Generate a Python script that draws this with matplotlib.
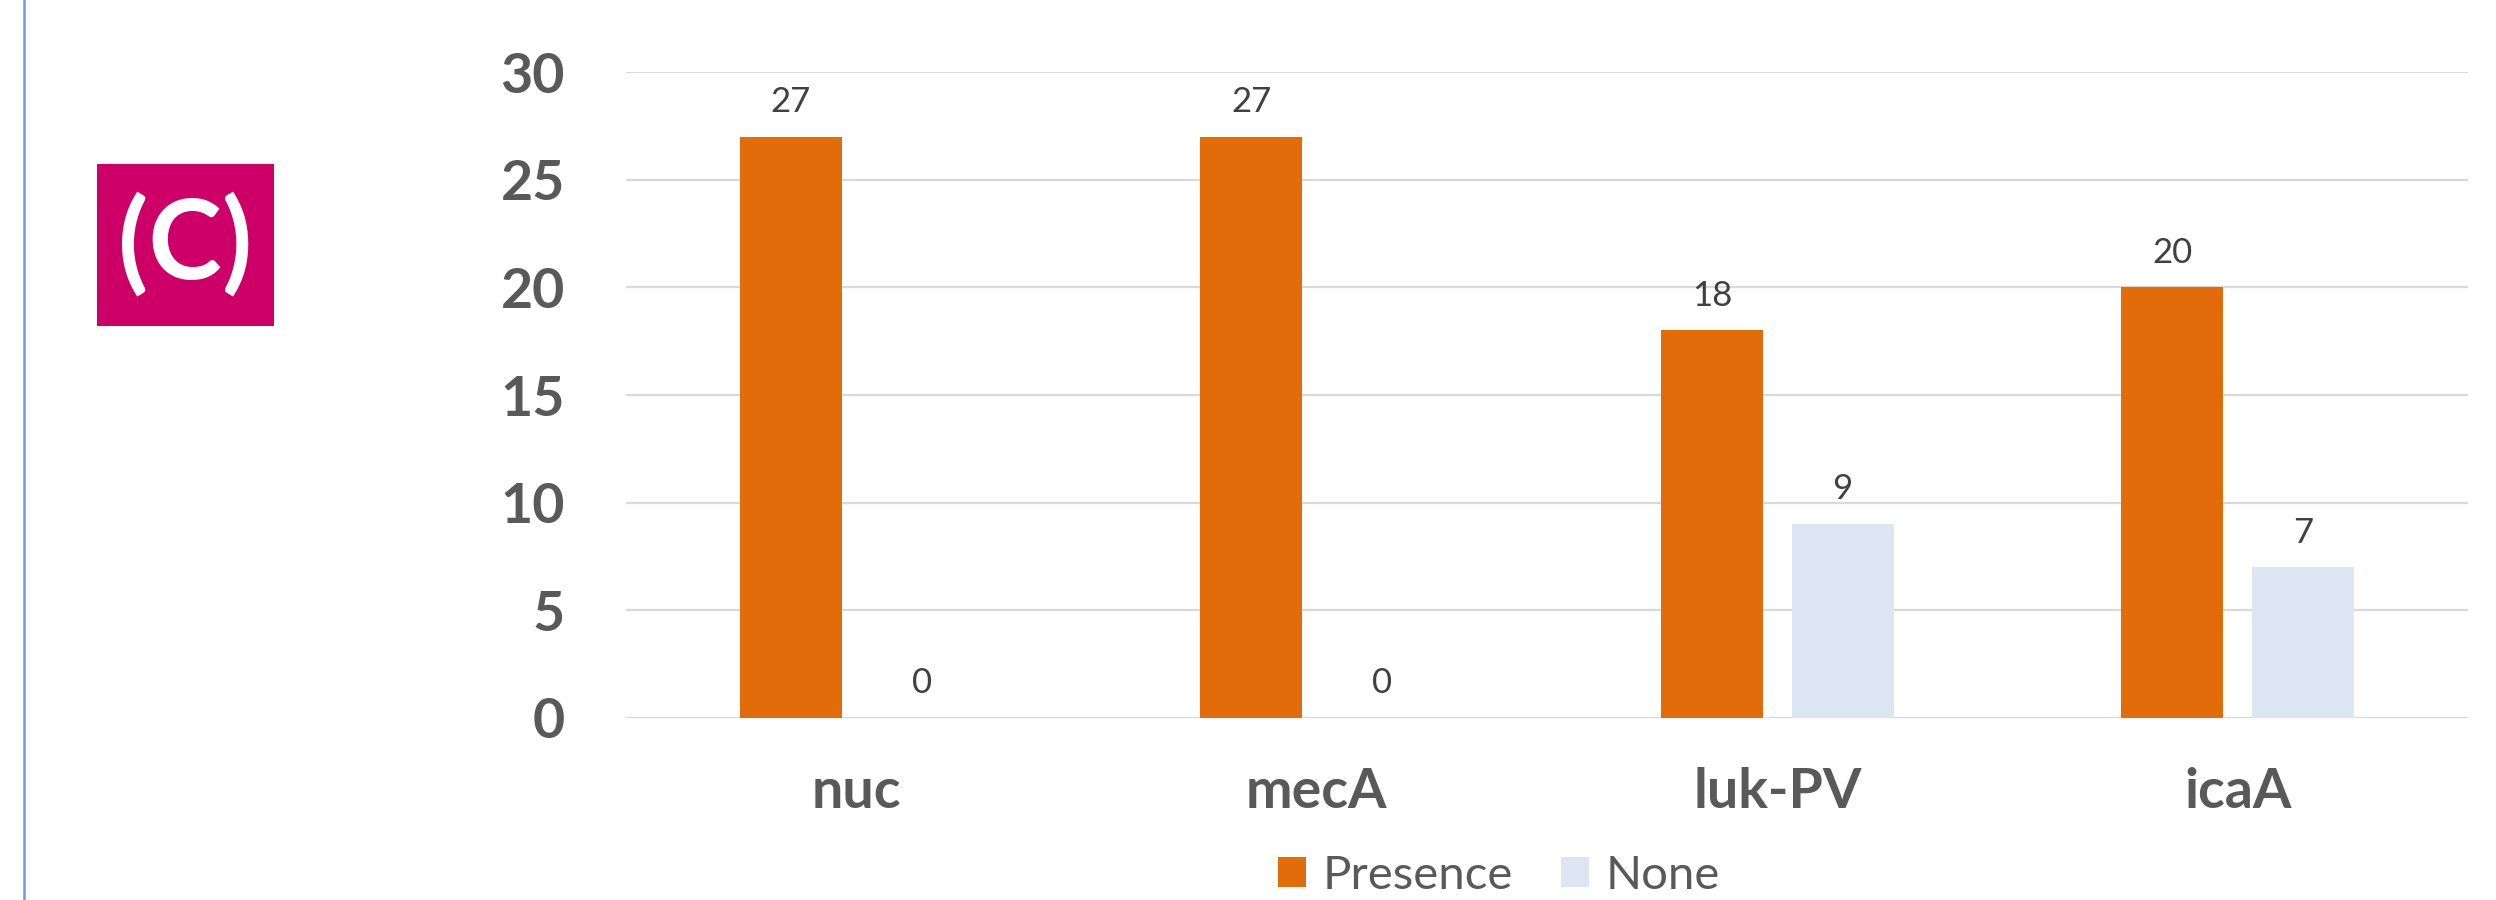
import numpy as np
import matplotlib as mpl
mpl.use('Agg')
import matplotlib.pyplot as plt
from matplotlib.patches import Patch, Rectangle
from matplotlib.lines import Line2D

plt.rcParams['font.family'] = ['Lato', 'DejaVu Sans']

genes = ['nuc', 'mecA', 'luk-PV', 'icaA']
presence = [27, 27, 18, 20]
none = [0, 0, 9, 7]
yticks = [0, 5, 10, 15, 20, 25, 30]

ORANGE = '#E36C0A'
LIGHTBLUE = '#DCE6F2'
GRID = '#D9D9D9'
TICK = '#595959'
VALUE = '#404040'

fig = plt.figure(figsize=(24.96, 9), dpi=100)
ax = fig.add_axes([626 / 2496, 182 / 900, 1842 / 2496, 646 / 900])

x = np.arange(len(genes))
w = 0.222
off = 0.142
b1 = ax.bar(x - off, presence, w, color=ORANGE, label='Presence', zorder=3)
b2 = ax.bar(x + off, none, w, color=LIGHTBLUE, label='None', zorder=3)

# value labels above each bar
for bars, vals in ((b1, presence), (b2, none)):
    for rect, v in zip(bars, vals):
        ax.annotate(str(v), (rect.get_x() + rect.get_width() / 2, v),
                    xytext=(0, 25), textcoords='offset points',
                    ha='center', va='center', fontsize=25, color=VALUE)

ax.set_xlim(-0.5, len(genes) - 0.5)
ax.set_ylim(0, 30)
ax.set_yticks(yticks)
ax.set_yticklabels([str(t) for t in yticks], fontsize=40, fontweight='bold', color=TICK)
ax.set_xticks(x)
ax.set_xticklabels(genes, fontsize=40, fontweight='bold', color=TICK)
ax.tick_params(axis='y', length=0, pad=44)
ax.tick_params(axis='x', length=0, pad=35)
ax.yaxis.grid(True, color=GRID, linewidth=1.6, zorder=0)
for s in ax.spines.values():
    s.set_visible(False)

handles = [Patch(facecolor=ORANGE, label='Presence'),
           Patch(facecolor=LIGHTBLUE, label='None')]
fig.legend(handles=handles, loc='center', bbox_to_anchor=(1499 / 2496, 24 / 900),
           ncol=2, frameon=False, fontsize=34, handlelength=0.6, handleheight=0.6,
           handletextpad=0.36, columnspacing=1.0, labelcolor=TICK, borderaxespad=0,
           borderpad=0)

# panel tag and left rule
fig.add_artist(Line2D([24 / 2496, 24 / 2496], [0, 1], color='#6A9BE0', linewidth=1.8,
                      transform=fig.transFigure))
fig.add_artist(Rectangle((97 / 2496, (900 - 326) / 900), 177 / 2496, 162 / 900,
                         facecolor='#CC0066', edgecolor='none', transform=fig.transFigure))
fig.text(185 / 2496, (900 - 245) / 900, '(C)', fontsize=80, fontweight='bold',
         color='white', ha='center', va='center')

plt.savefig('out.png', dpi=100)
